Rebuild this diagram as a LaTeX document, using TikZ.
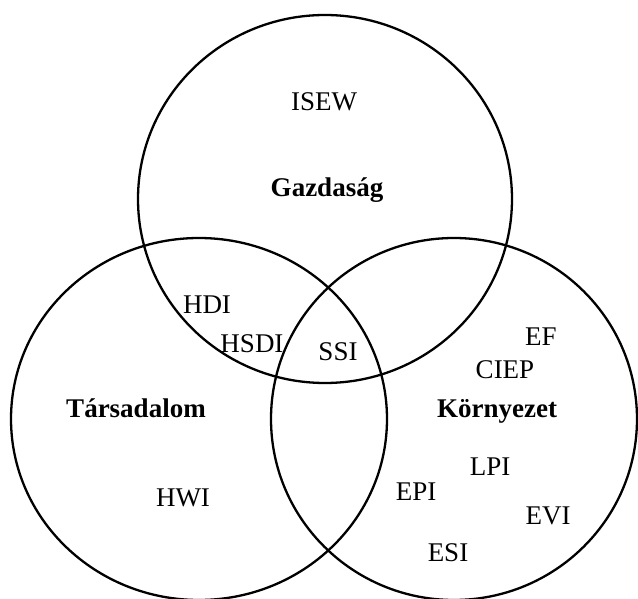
\documentclass[tikz,border=0pt]{standalone}
\usepackage{fontspec}
\setmainfont{Liberation Serif}
\begin{document}
\begin{tikzpicture}[x=1pt,y=-1pt,
  ring/.style={line width=2.3pt, black},
  lbl/.style={anchor=base, inner sep=0pt, font=\fontsize{27}{32}\selectfont},
  area/.style={lbl, font=\fontsize{27}{32}\selectfont\bfseries}]
\useasboundingbox (0,0) rectangle (638,599);
% three overlapping sets
\draw[ring] (325,199) ellipse [x radius=187, y radius=184];
\draw[ring] (199,419) ellipse [x radius=188, y radius=181];
\draw[ring] (454,419) ellipse [x radius=183, y radius=181];
% set names
\node[area] (gaz) at (327,197) {Gazdaság};
\node[area] (tar) at (136,417) {Társadalom};
\node[area] (kor) at (497,417) {Környezet};
% indicators
\node[lbl] (isew) at (324,111) {ISEW};
\node[lbl] (hdi)  at (207,313) {HDI};
\node[lbl] (hsdi) at (252,352) {HSDI};
\node[lbl] (ssi)  at (338,360) {SSI};
\node[lbl] (ef)   at (541,345) {EF};
\node[lbl] (ciep) at (505,378) {CIEP};
\node[lbl] (lpi)  at (490,475) {LPI};
\node[lbl] (epi)  at (416,500) {EPI};
\node[lbl] (hwi)  at (183,506) {HWI};
\node[lbl] (evi)  at (548,524) {EVI};
\node[lbl] (esi)  at (448,561) {ESI};
\end{tikzpicture}
\end{document}
